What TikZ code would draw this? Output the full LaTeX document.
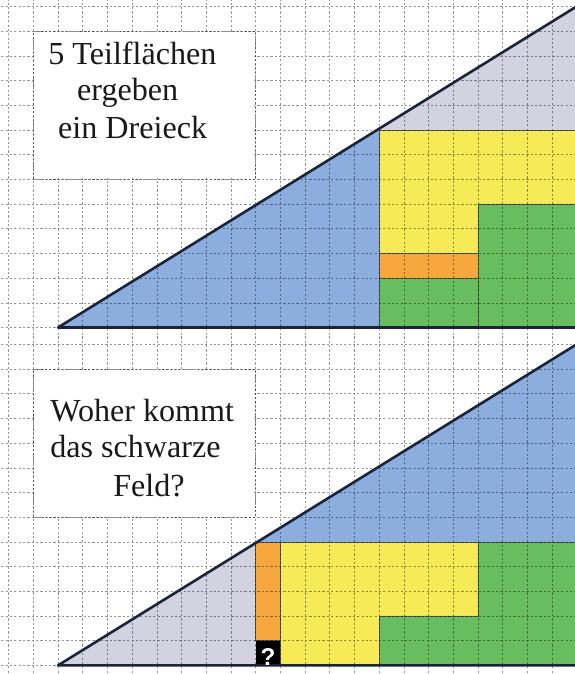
\documentclass[tikz,border=0pt]{standalone}
\usepackage{fontspec}
\setmainfont{Liberation Serif}
\setsansfont{Liberation Sans}
\definecolor{pieceblue}{RGB}{140,174,222}
\definecolor{piecegray}{RGB}{210,210,224}
\definecolor{pieceyellow}{RGB}{246,234,86}
\definecolor{pieceorange}{RGB}{246,168,62}
\definecolor{piecegreen}{RGB}{104,190,94}
\definecolor{edgedark}{RGB}{28,36,58}
\tikzset{
  paper/.style={draw=black,draw opacity=0.42,line width=0.55pt,dash pattern=on 2.5pt off 2.5pt},
  boxline/.style={draw=black,draw opacity=0.45,line width=0.8pt,dash pattern=on 2.5pt off 2pt},
  piece/.style={draw=black!65,line width=0.7pt},
  bluepiece/.style={fill=pieceblue},
  graypiece/.style={fill=piecegray},
  yellowpiece/.style={piece,fill=pieceyellow},
  orangepiece/.style={piece,fill=pieceorange},
  greenpiece/.style={piece,fill=piecegreen},
  holepiece/.style={fill=black},
  outline/.style={draw=edgedark,line width=3pt,line join=round},
  caption/.style={font=\fontsize{37}{42}\selectfont,inner sep=0pt,anchor=base west,text=black!90}
}

\begin{document}
\begin{tikzpicture}
  \useasboundingbox (-2.35,-14.03) rectangle (20.93,13.26);

  % oben: Dreieck aus 5 Teilflaechen
  \begin{scope}
    \clip (-2.35,-0.34) rectangle (20.93,13.26);
    \fill[graypiece] (13,8) -- (21,8) -- (21,13) -- cycle;
    \fill[bluepiece] (0,0) -- (13,0) -- (13,8) -- cycle;
    \filldraw[yellowpiece] (13,8) -- (21,8) -- (21,5) -- (17,5) -- (17,3) -- (13,3) -- cycle;
    \filldraw[orangepiece] (13,2) rectangle (17,3);
    \filldraw[greenpiece] (13,0) -- (21,0) -- (21,5) -- (17,5) -- (17,2) -- (13,2) -- cycle;
    \draw[piece] (17,0) -- (17,2);
    \draw[paper] (-3,-1) grid (22,14);
    \fill[white] (-0.95,6.05) rectangle (7.95,11.95);
    \draw[boxline] (-1,6) rectangle (8,12);
    \draw[outline] (0,0) -- (21,0) -- (21,13) -- cycle;
    \node[caption] (lineA) at (-0.40,10.63) {5 Teilflächen};
    \node[caption] (lineB) at (0.77,9.21) {ergeben};
    \node[caption] (lineC) at (0.00,7.67) {ein Dreieck};
  \end{scope}

  % unten: gleiche Teile, ein Feld bleibt frei
  \begin{scope}[yshift=-13.68cm]
    \clip (-2.35,-0.35) rectangle (20.93,13.34);
    \fill[graypiece] (0,0) -- (8,0) -- (8,5) -- cycle;
    \fill[bluepiece] (8,5) -- (21,5) -- (21,13) -- cycle;
    \filldraw[orangepiece] (8,1) rectangle (9,5);
    \filldraw[yellowpiece] (9,0) -- (13,0) -- (13,2) -- (17,2) -- (17,5) -- (9,5) -- cycle;
    \filldraw[greenpiece] (13,0) -- (21,0) -- (21,5) -- (17,5) -- (17,2) -- (13,2) -- cycle;
    \fill[holepiece] (8,0) rectangle (9,1);
    \draw[paper] (-3,-1) grid (22,14);
    \fill[white] (-0.95,6.05) rectangle (7.95,11.95);
    \draw[boxline] (-1,6) rectangle (8,12);
    \draw[outline] (0,0) -- (21,0) -- (21,13) -- cycle;
    \node[font=\sffamily\bfseries\fontsize{28}{28}\selectfont,text=white,inner sep=0pt,anchor=south] (hole) at (8.5,-0.02) {?};
    \node[caption] (lineD) at (-0.32,9.87) {Woher kommt};
    \node[caption] (lineE) at (-0.32,8.40) {das schwarze};
    \node[caption] (lineF) at (2.23,6.83) {Feld?};
  \end{scope}
\end{tikzpicture}
\end{document}
